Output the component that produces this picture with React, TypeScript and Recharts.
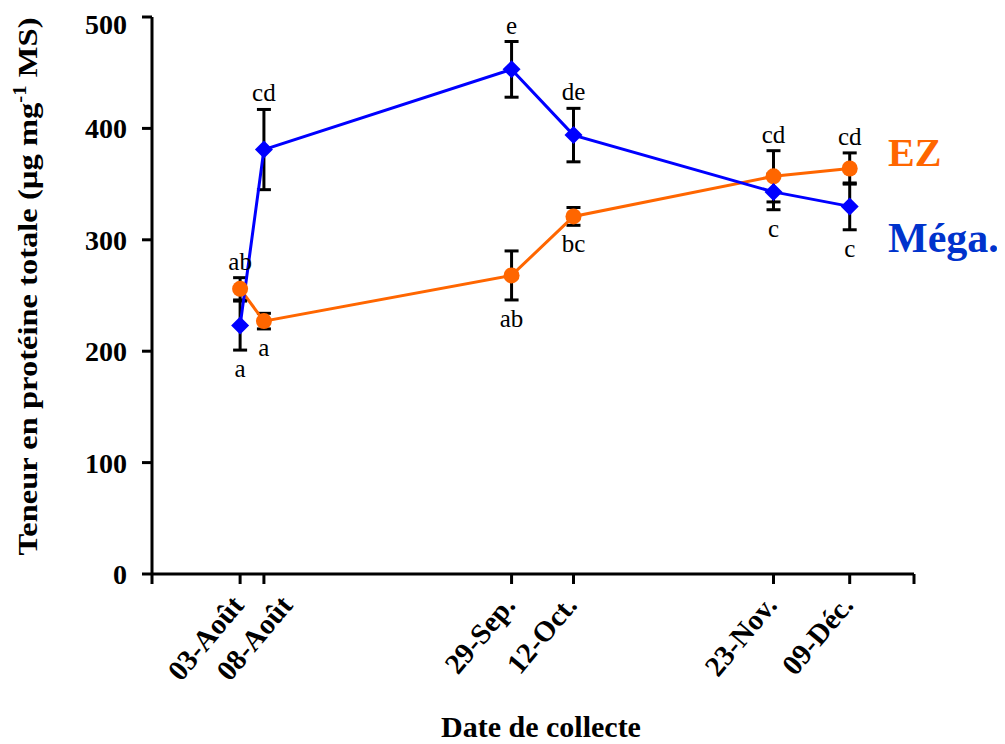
import React from 'react';
import { ComposedChart, Line, XAxis, YAxis, ErrorBar, LabelList, Label } from 'recharts';

// dates of collection and their offset (days after 03-Août)
const dateLabels = ['03-Août', '08-Août', '29-Sep.', '12-Oct.', '23-Nov.', '09-Déc.'];
const dayOffsets = [0, 5, 57, 70, 112, 128];

const ezValues = [256, 227, 268, 321, 357, 364];
const ezErrors = [10, 7, 22, 8, 23, 14];
const ezLetters = ['ab', 'a', 'ab', 'bc', 'cd', 'cd'];

const megaValues = [223, 381, 453, 394, 343, 330];
const megaErrors = [22, 36, 25, 24, 16, 21];
const megaLetters = ['a', 'cd', 'e', 'de', 'c', 'c'];

const yTicks = [0, 100, 200, 300, 400, 500];

const SERIF = "'Times New Roman', 'Liberation Serif', serif";
const ORANGE = '#ff6600';
const BLUE = '#0000ff';

const ezOnTop = (i: number) => ezValues[i] >= megaValues[i];

const data = dayOffsets.map((day, i) => ({
  day,
  ez: ezValues[i],
  ezErr: ezErrors[i],
  mega: megaValues[i],
  megaErr: megaErrors[i],
  // letter sits beyond the error bar, away from the other series
  ezAnchor: ezOnTop(i) ? ezValues[i] + ezErrors[i] : ezValues[i] - ezErrors[i],
  megaAnchor: ezOnTop(i) ? megaValues[i] - megaErrors[i] : megaValues[i] + megaErrors[i],
}));

const letterLabel = (letters: string[], above: (i: number) => boolean) => (props: any) => {
  const x = props.x ?? props.viewBox?.x;
  const y = props.y ?? props.viewBox?.y;
  const i = props.index;
  if (x == null || y == null || letters[i] == null) return null;
  return (
    <text x={x} y={above(i) ? y - 8 : y + 27} textAnchor="middle" fontSize={25} fill="#000" fontFamily={SERIF}>
      {letters[i]}
    </text>
  );
};

const Diamond = (props: any) => {
  const { cx, cy } = props;
  if (cx == null || cy == null) return null;
  const s = 9;
  return <polygon points={`${cx},${cy - s} ${cx + s},${cy} ${cx},${cy + s} ${cx - s},${cy}`} fill={BLUE} />;
};

const Circle = (props: any) => {
  const { cx, cy } = props;
  if (cx == null || cy == null) return null;
  return <circle cx={cx} cy={cy} r={8} fill={ORANGE} />;
};

const DateTick = (props: any) => {
  const { x, y, payload } = props;
  const i = dayOffsets.indexOf(payload.value);
  if (i < 0) return null;
  // labels of dates only a few days apart get pushed right so they don't overlap
  const crowded = i > 0 && dayOffsets[i] - dayOffsets[i - 1] < 10;
  const dx = crowded ? 30 : 5;
  return (
    <g transform={`translate(${x + dx},${y + 20}) rotate(-50)`}>
      <text x={0} y={0} textAnchor="end" fontSize={29} fontWeight="bold" fill="#000" fontFamily={SERIF}>
        {dateLabels[i]}
      </text>
    </g>
  );
};

const YTitle = (props: any) => {
  const vb = props.viewBox || {};
  const cx = 29;
  const cy = (vb.y ?? 0) + (vb.height ?? 0) / 2 - 9;
  return (
    <text
      transform={`translate(${cx},${cy}) rotate(-90)`}
      textAnchor="middle"
      fontSize={28}
      fontWeight="bold"
      fill="#000"
      fontFamily={SERIF}
      textLength={538}
      lengthAdjust="spacingAndGlyphs"
    >
      <tspan>Teneur en protéine totale (µg mg</tspan>
      <tspan fontSize={18} dy={-11}>-1</tspan>
      <tspan dy={11}> MS)</tspan>
    </text>
  );
};

const XTitle = () => (
  <text x={533} y={729} textAnchor="middle" fontSize={30} fontWeight="bold" fill="#000" fontFamily={SERIF}>
    Date de collecte
  </text>
);

export default function App() {
  const axisStroke = { stroke: '#000', strokeWidth: 3 };
  return (
    <div style={{ width: 997, height: 736, position: 'relative' }}>
      <ComposedChart width={997} height={736} data={data} margin={{ top: 9, right: 91, left: 0, bottom: 0 }}>
        <XAxis
          type="number"
          dataKey="day"
          domain={[-18.5, 141.5]}
          ticks={[-18.5, ...dayOffsets, 141.5]}
          interval={0}
          height={170}
          tickSize={10}
          axisLine={axisStroke}
          tickLine={axisStroke}
          tick={<DateTick />}
        >
          <Label content={<XTitle />} />
        </XAxis>
        <YAxis
          type="number"
          domain={[0, 500]}
          ticks={yTicks}
          width={144}
          tickSize={10}
          tickMargin={15}
          axisLine={axisStroke}
          tickLine={axisStroke}
          tick={{ fill: '#000', fontSize: 28, fontWeight: 'bold', fontFamily: SERIF }}
        >
          <Label content={<YTitle />} />
        </YAxis>

        <Line dataKey="ez" stroke={ORANGE} strokeWidth={3} dot={<Circle />} activeDot={false} isAnimationActive={false}>
          <ErrorBar dataKey="ezErr" direction="y" width={7} stroke="#000" strokeWidth={3} />
        </Line>
        <Line dataKey="mega" stroke={BLUE} strokeWidth={3} dot={<Diamond />} activeDot={false} isAnimationActive={false}>
          <ErrorBar dataKey="megaErr" direction="y" width={7} stroke="#000" strokeWidth={3} />
        </Line>

        <Line dataKey="ezAnchor" stroke="none" dot={false} activeDot={false} isAnimationActive={false} legendType="none">
          <LabelList dataKey="ezAnchor" content={letterLabel(ezLetters, (i) => ezOnTop(i))} />
        </Line>
        <Line dataKey="megaAnchor" stroke="none" dot={false} activeDot={false} isAnimationActive={false} legendType="none">
          <LabelList dataKey="megaAnchor" content={letterLabel(megaLetters, (i) => !ezOnTop(i))} />
        </Line>

        <text x={880} y={158} fontSize={40} fontWeight="bold" fill={ORANGE} fontFamily={SERIF}>EZ</text>
        <text x={880} y={244} fontSize={42} fontWeight="bold" fill="#0033cc" fontFamily={SERIF}>Méga.</text>
      </ComposedChart>
    </div>
  );
}
